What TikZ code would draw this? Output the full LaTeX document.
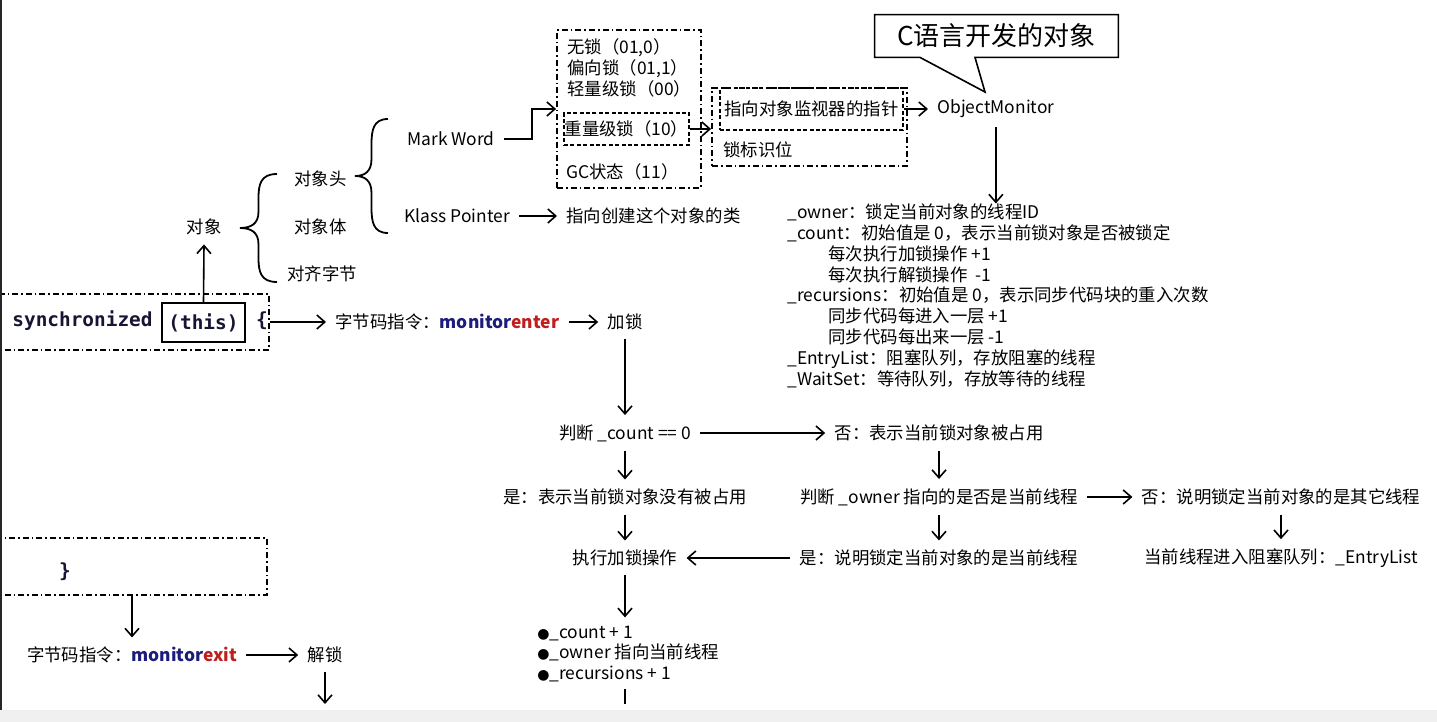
\documentclass[tikz,border=0pt]{standalone}
\usepackage{fontspec}
\setmainfont{Noto Sans CJK SC}
\newfontfamily\codefont{DejaVu Sans Mono}
\newfontfamily\symfont{DejaVu Sans}
\usetikzlibrary{positioning,arrows.meta}
\definecolor{monblue}{RGB}{28,28,125}
\definecolor{monred}{RGB}{190,30,30}
\definecolor{codeink}{RGB}{22,22,52}
\definecolor{stripgray}{RGB}{240,240,240}
\newcommand{\monop}[1]{{\bfseries\color{monblue}monitor\color{monred}#1}}
\newcommand{\dotitem}{{\symfont\fontsize{7}{8}\selectfont ●}}
\tikzset{
  txt/.style={font=\fontsize{8.7}{10.4}\selectfont, inner sep=4.5pt},
  lines/.style={txt, inner sep=0pt, align=left},
  code/.style={font=\codefont\bfseries\fontsize{9.7}{11}\selectfont, text=codeink, inner sep=0pt},
  dashdotbox/.style={draw, line width=0.9pt, dash pattern=on 3pt off 1.5pt on 0.8pt off 1.5pt, inner sep=0pt},
  dashbox/.style={draw, line width=0.9pt, dash pattern=on 2pt off 1.2pt, inner sep=0pt},
  arr/.style={line width=0.8pt, -{Straight Barb[length=4pt,width=7pt]}},
  pics/curly/.style 2 args={
    code={
      \draw[line width=0.9pt] (#2,-#1) .. controls ({0.55*#2},{-#1}) and ({0.5*#2},{-0.8*#1}) .. ({0.5*#2},{-0.55*#1})
        -- ({0.5*#2},{-0.3*#1}) .. controls ({0.5*#2},{-0.08*#1}) and ({0.3*#2},0) .. (0,0)
        .. controls ({0.3*#2},0) and ({0.5*#2},{0.08*#1}) .. ({0.5*#2},{0.3*#1})
        -- ({0.5*#2},{0.55*#1}) .. controls ({0.5*#2},{0.8*#1}) and ({0.55*#2},{#1}) .. (#2,#1);
    }
  }
}

\begin{document}
\begin{tikzpicture}[x=0.5pt, y=-0.5pt]
  \useasboundingbox (0,0) rectangle (1437,722);

  % Objeto
  \draw node[txt] (obj) at (204,227) {对象};
  \draw node[txt, anchor=west] (objhead) at (285,179) {对象头};
  \draw node[txt, anchor=west] (objbody) at (285,227) {对象体};
  \draw node[txt, anchor=west] (objpad) at (278,274) {对齐字节};
  \draw pic at (240,228) {curly={54}{37}};
  \draw pic at (355,176) {curly={57}{33}};
  \draw node[txt] (markword) at (451,139) {Mark Word};
  \draw node[txt, anchor=west] (klass) at (395,216) {Klass Pointer};
  \draw node[txt, anchor=west] (klasscls) at (557,216) {指向创建这个对象的类};
  \draw[arr] (klass) -- (klasscls);

  % Mark Word
  \draw node[dashdotbox, minimum width=72pt, minimum height=79pt] (statesbox) at (629,109) {};
  \draw node[lines, anchor=west] (states) at (567,68) {无锁（01,0）\\偏向锁（01,1）\\轻量级锁（00）};
  \draw node[txt, dashbox, minimum width=62.5pt, minimum height=16pt] (heavy) at (626.5,129) {重量级锁（10）};
  \draw node[txt, anchor=west] (gc) at (557,172) {GC状态（11）};
  \draw[arr] (markword.east) -| ([xshift=-12pt]statesbox.west) -- (statesbox.west);

  \draw node[dashdotbox, minimum width=97.5pt, minimum height=39pt] (monbox) at (809.5,127) {};
  \draw node[txt, dashbox, minimum width=91.5pt, minimum height=21pt] (monptr) at (811.5,109) {指向对象监视器的指针};
  \draw node[txt, anchor=west] (lockbits) at (714,150) {锁标识位};
  \draw[arr] (heavy.east) -- (heavy.east -| monbox.west);
  \draw node[txt, anchor=west] (om) at (928,109) {ObjectMonitor};
  \draw[arr] (monptr.east) -- (om.west);

  % Nota
  \draw node[font=\fontsize{13}{15}\selectfont, minimum width=121.5pt, minimum height=21pt, inner sep=0pt] (callout) at (996.5,36) {C语言开发的对象};
  \coordinate (calltip) at (985,92);
  \draw[line width=0.8pt] (callout.south west) -- (callout.north west) -- (callout.north east) -- (callout.south east)
    -- ([xshift=-10.75pt]callout.south) -- (calltip) -- ([xshift=-38.25pt]callout.south) -- cycle;

  \draw node[lines, anchor=north west] (omfields) at (787,203.5) {\_owner：锁定当前对象的线程ID\\
    \_count：初始值是 0，表示当前锁对象是否被锁定\\
    \hspace*{20.5pt}每次执行加锁操作 +1\\
    \hspace*{20.5pt}每次执行解锁操作 \ -1\\
    \_recursions：初始值是 0，表示同步代码块的重入次数\\
    \hspace*{20.5pt}同步代码每进入一层 +1\\
    \hspace*{20.5pt}同步代码每出来一层 -1\\
    \_EntryList：阻塞队列，存放阻塞的线程\\
    \_WaitSet：等待队列，存放等待的线程};
  \draw[arr] (om.south) -- (om.south |- omfields.north);

  % Bloque
  \draw node[dashdotbox, minimum width=139pt, minimum height=28pt] (syncbox) at (130,322) {};
  \draw node[code, anchor=west] (syncword) at (12,321) {synchronized};
  \draw node[code, draw, line width=0.8pt, minimum width=41.5pt, minimum height=19.5pt] (thisbox) at (203.5,322.5) {(this)};
  \draw node[code] (openbr) at (262,321) {\{};
  \draw[arr] (thisbox.north) -- (obj.south);

  \draw node[txt, anchor=west] (enter) at (326,322) {字节码指令：\monop{enter}};
  \draw node[txt] (lock) at (625,322) {加锁};
  \draw[arr] (syncbox.east) -- (enter.west);
  \draw[arr] (enter) -- (lock);

  % Flujo
  \draw node[txt] (judge) at (625,433) {判断 \_count == 0};
  \draw node[txt] (busy) at (939,433) {否：表示当前锁对象被占用};
  \draw node[txt] (free) at (625,497) {是：表示当前锁对象没有被占用};
  \draw node[txt] (owner) at (939,497) {判断 \_owner 指向的是否是当前线程};
  \draw node[txt] (other) at (1281,497) {否：说明锁定当前对象的是其它线程};
  \draw node[txt] (queue) at (1281,558) {当前线程进入阻塞队列：\_EntryList};
  \draw node[txt] (exec) at (625,558) {执行加锁操作};
  \draw node[txt] (mine) at (939,558) {是：说明锁定当前对象的是当前线程};
  \draw node[lines, anchor=west] (bullets) at (537,654) {\dotitem\_count + 1\\\dotitem\_owner 指向当前线程\\\dotitem\_recursions + 1};

  \draw[arr] (lock) -- (judge);
  \draw[arr] (judge) -- (busy);
  \draw[arr] (judge) -- (free);
  \draw[arr] (busy) -- (owner);
  \draw[arr] (owner) -- (other);
  \draw[arr] (other) -- (queue);
  \draw[arr] (owner) -- (mine);
  \draw[arr] (mine) -- (exec);
  \draw[arr] (free) -- (exec);
  \draw[arr, shorten >=4pt] (exec.south) -- (exec.south |- bullets.north);
  \coordinate (foot) at (0,704);
  \draw[line width=0.8pt, shorten <=3pt] (exec.south |- bullets.south) -- (exec.south |- foot);

  % Salida
  \draw node[dashdotbox, minimum width=138pt, minimum height=28.5pt] (endbox) at (129,566.5) {};
  \draw node[code] (closebr) at (65,572) {\}};
  \draw node[txt] (exit) at (132,655) {字节码指令：\monop{exit}};
  \draw node[txt] (unlock) at (325,655) {解锁};
  \draw[arr] (exit.north |- endbox.south) -- (exit.north);
  \draw[arr] (exit) -- (unlock);
  \draw[arr] (unlock.south) -- (unlock.south |- foot);

  \fill[stripgray] (0,710) rectangle (1437,722);
  \draw[line width=1.4pt, black!85] (1,0) -- (1,710);
\end{tikzpicture}
\end{document}
